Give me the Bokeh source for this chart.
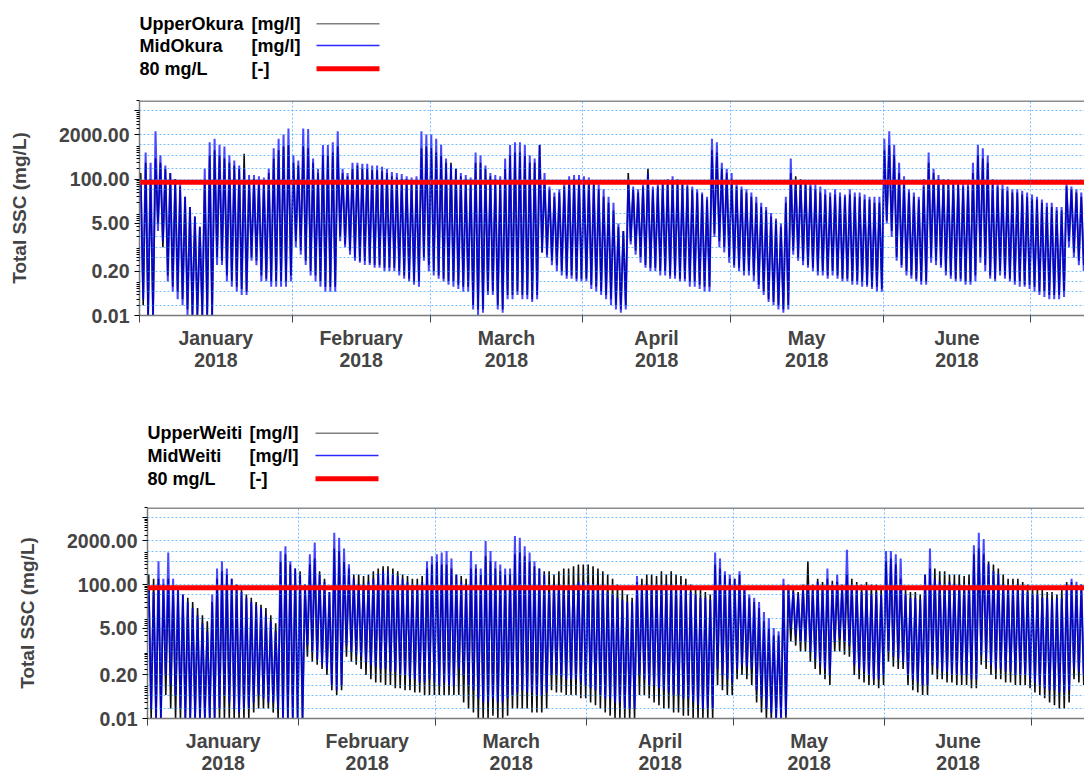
import numpy as np
import pandas as pd
from bokeh.plotting import figure
from bokeh.models import Range1d, FixedTicker, PrintfTickFormatter, Span
from bokeh.core.properties import value
from bokeh.embed import file_html
from bokeh.resources import INLINE

FONT = "Liberation Sans"
START = "2018-01-01"
N_DAYS_SHOWN = 191.9
Y_MIN, Y_MAX = 0.01, 20000

# ---------------- tick labels / positions ----------------
month_names = ["January", "February", "March", "April", "May", "June"]
month_label_dates = ["2018-01-16 12:00", "2018-02-15 00:00", "2018-03-16 12:00",
                     "2018-04-16 00:00", "2018-05-16 12:00", "2018-06-16 00:00"]
month_starts = ["2018-01-01", "2018-02-01", "2018-03-01", "2018-04-01",
                "2018-05-01", "2018-06-01", "2018-07-01"]
y_label_ticks = [0.01, 0.2, 5, 100, 2000, 10000]
y_grid_values = [0.02, 0.05, 0.1, 0.2, 0.5, 1, 2, 5, 10, 50, 100, 200, 500, 1000, 2000, 10000]
threshold = 80  # mg/L

# ---------------- legend texts ----------------
top_names = ["UpperOkura", "MidOkura", "80 mg/L"]
bot_names = ["UpperWeiti", "MidWeiti", "80 mg/L"]
units = ["[mg/l]", "[mg/l]", "[-]"]
legend_colors = ["#7f7f7f", "#2a2aff", "#ff0000"]
legend_widths = [1.5, 1.5, 5]

# ---------------- data: daily tidal maxima / minima (mg/L), day 0 = 1 Jan 2018 ----------------
upper_okura_hi = [
    150, 300, 100, 400, 300, 200, 150, 100, 60, 30,
    15, 8, 4, 100, 500, 700, 500, 400, 300, 250,
    200, 550, 100, 100, 90, 90, 150, 400, 700, 900,
    1000, 300, 250, 900, 800, 300, 150, 500, 500, 600,
    900, 150, 120, 200, 250, 200, 200, 180, 180, 170,
    150, 120, 110, 100, 100, 90, 100, 800, 900, 800,
    600, 500, 300, 300, 200, 120, 100, 90, 300, 300,
    200, 120, 100, 100, 200, 500, 600, 600, 500, 300,
    300, 1000, 100, 50, 30, 40, 60, 100, 100, 100,
    100, 80, 70, 50, 30, 20, 12, 4, 3, 150,
    50, 40, 60, 200, 50, 60, 70, 80, 100, 80,
    70, 60, 50, 40, 35, 25, 700, 600, 200, 150,
    100, 60, 50, 40, 30, 20, 15, 12, 8, 6,
    4, 20, 150, 120, 100, 70, 60, 50, 40, 35,
    30, 35, 30, 30, 35, 30, 30, 25, 25, 20,
    20, 700, 1000, 500, 150, 70, 40, 30, 25, 60,
    300, 150, 100, 80, 70, 70, 70, 60, 60, 150,
    500, 400, 300, 70, 60, 50, 45, 40, 40, 35,
    30, 25, 25, 20, 15, 15, 12, 12, 60, 50,
    40, 30]
upper_okura_lo = [
    0.02, 0.01, 0.01, 5, 1, 0.15, 0.07, 0.05, 0.03, 0.015,
    0.01, 0.01, 0.01, 0.01, 0.01, 0.5, 0.4, 0.15, 0.1, 0.07,
    0.06, 0.05, 0.5, 0.4, 0.15, 0.12, 0.1, 0.1, 0.1, 0.1,
    0.15, 1.5, 0.8, 0.4, 0.2, 0.15, 0.1, 0.07, 0.07, 0.07,
    2, 1.2, 0.8, 0.5, 0.4, 0.4, 0.35, 0.3, 0.3, 0.25,
    0.25, 0.25, 0.2, 0.15, 0.12, 0.1, 0.1, 0.5, 0.3, 0.2,
    0.15, 0.12, 0.1, 0.1, 0.08, 0.07, 0.07, 0.02, 0.015, 0.015,
    0.05, 0.05, 0.02, 0.015, 0.04, 0.04, 0.05, 0.04, 0.04, 0.03,
    0.04, 0.7, 0.6, 0.4, 0.3, 0.2, 0.15, 0.15, 0.12, 0.12,
    0.12, 0.08, 0.07, 0.05, 0.04, 0.03, 0.02, 0.015, 0.02, 1.5,
    0.8, 0.5, 0.3, 0.25, 0.25, 0.2, 0.2, 0.15, 0.15, 0.12,
    0.12, 0.1, 0.1, 0.08, 0.07, 0.07, 2.5, 1.5, 1, 0.5,
    0.3, 0.25, 0.2, 0.2, 0.15, 0.08, 0.05, 0.03, 0.025, 0.02,
    0.015, 0.02, 0.8, 0.5, 0.4, 0.3, 0.25, 0.2, 0.2, 0.15,
    0.2, 0.15, 0.12, 0.12, 0.1, 0.1, 0.1, 0.08, 0.07, 0.07,
    0.06, 6, 3, 0.5, 0.3, 0.2, 0.15, 0.12, 0.1, 0.1,
    0.5, 0.4, 0.3, 0.2, 0.15, 0.12, 0.12, 0.1, 0.1, 0.15,
    0.5, 0.3, 0.15, 0.12, 0.2, 0.15, 0.12, 0.1, 0.1, 0.08,
    0.08, 0.07, 0.05, 0.05, 0.04, 0.04, 0.04, 0.05, 1.5, 0.7,
    0.4, 0.3]
mid_okura_hi = [
    80, 600, 300, 2500, 500, 250, 150, 100, 70, 30,
    15, 8, 4, 200, 1200, 1500, 1000, 900, 500, 350,
    250, 200, 130, 130, 120, 110, 200, 800, 1500, 2000,
    3000, 500, 350, 3000, 2900, 400, 200, 1000, 1000, 1200,
    2500, 200, 150, 300, 300, 280, 280, 250, 250, 230,
    200, 160, 150, 140, 120, 110, 120, 2500, 2000, 2000,
    1500, 1000, 400, 250, 200, 150, 130, 110, 600, 500,
    250, 150, 130, 120, 400, 1000, 1200, 1200, 1000, 500,
    400, 1000, 150, 60, 40, 50, 80, 120, 130, 130,
    120, 110, 90, 70, 50, 30, 20, 5, 3, 100,
    60, 50, 70, 150, 60, 70, 80, 100, 120, 100,
    80, 70, 60, 50, 40, 30, 1500, 1200, 300, 200,
    150, 80, 60, 50, 40, 30, 20, 15, 10, 7,
    5, 30, 400, 80, 90, 90, 80, 70, 60, 50,
    40, 50, 40, 35, 50, 40, 40, 35, 30, 30,
    30, 1500, 2500, 1000, 300, 120, 50, 40, 30, 100,
    600, 200, 130, 100, 100, 90, 90, 80, 80, 300,
    1000, 800, 500, 100, 80, 70, 60, 50, 50, 45,
    40, 35, 30, 25, 20, 20, 15, 15, 80, 60,
    50, 40]
mid_okura_lo = [
    0.03, 0.01, 0.01, 3, 1.5, 0.1, 0.05, 0.03, 0.02, 0.01,
    0.01, 0.01, 0.01, 0.01, 0.01, 0.3, 0.3, 0.1, 0.07, 0.05,
    0.04, 0.04, 0.4, 0.3, 0.1, 0.1, 0.07, 0.07, 0.07, 0.07,
    0.1, 1, 0.6, 0.3, 0.15, 0.1, 0.07, 0.05, 0.05, 0.05,
    1.5, 1, 0.6, 0.4, 0.35, 0.3, 0.3, 0.25, 0.25, 0.2,
    0.2, 0.2, 0.15, 0.12, 0.1, 0.08, 0.07, 0.4, 0.2, 0.15,
    0.12, 0.1, 0.08, 0.07, 0.06, 0.05, 0.05, 0.015, 0.01, 0.012,
    0.04, 0.04, 0.015, 0.012, 0.03, 0.03, 0.04, 0.03, 0.03, 0.025,
    0.03, 0.7, 0.5, 0.3, 0.2, 0.15, 0.12, 0.12, 0.1, 0.1,
    0.1, 0.06, 0.05, 0.04, 0.03, 0.02, 0.015, 0.012, 0.015, 1.2,
    0.6, 0.35, 0.25, 0.2, 0.2, 0.15, 0.15, 0.12, 0.12, 0.1,
    0.1, 0.07, 0.07, 0.06, 0.05, 0.05, 2, 1, 0.7, 0.35,
    0.25, 0.2, 0.15, 0.15, 0.1, 0.06, 0.04, 0.025, 0.02, 0.015,
    0.012, 0.015, 0.6, 0.4, 0.3, 0.25, 0.2, 0.15, 0.15, 0.12,
    0.15, 0.12, 0.1, 0.1, 0.08, 0.08, 0.07, 0.07, 0.06, 0.05,
    0.05, 5, 2, 0.4, 0.25, 0.15, 0.12, 0.1, 0.08, 0.08,
    0.35, 0.3, 0.25, 0.15, 0.12, 0.1, 0.1, 0.08, 0.08, 0.1,
    0.35, 0.2, 0.12, 0.1, 0.15, 0.12, 0.1, 0.08, 0.07, 0.07,
    0.06, 0.05, 0.04, 0.035, 0.03, 0.03, 0.03, 0.035, 1, 0.5,
    0.3, 0.2]
upper_weiti_hi = [
    200, 150, 150, 100, 150, 80, 70, 50, 40, 30,
    20, 12, 8, 30, 150, 250, 200, 150, 100, 70,
    50, 40, 30, 25, 20, 12, 7, 500, 800, 400,
    300, 250, 100, 400, 600, 250, 150, 60, 1200, 1000,
    500, 300, 200, 200, 180, 200, 250, 300, 350, 350,
    300, 250, 200, 180, 150, 150, 180, 300, 400, 500,
    400, 400, 300, 200, 180, 150, 300, 300, 200, 700,
    500, 300, 250, 200, 200, 800, 900, 700, 500, 350,
    300, 250, 250, 200, 250, 300, 300, 350, 400, 400,
    400, 350, 300, 250, 200, 150, 100, 70, 50, 40,
    120, 150, 200, 200, 180, 250, 200, 250, 200, 180,
    150, 100, 80, 70, 60, 50, 400, 300, 200, 150,
    150, 200, 80, 40, 30, 20, 8, 5, 3, 3,
    100, 80, 80, 60, 100, 500, 100, 150, 120, 150,
    130, 120, 100, 200, 150, 120, 100, 120, 100, 100,
    80, 500, 600, 400, 150, 70, 60, 60, 50, 200,
    300, 300, 250, 250, 200, 200, 200, 180, 200, 800,
    1200, 800, 500, 400, 300, 200, 150, 150, 150, 120,
    100, 90, 80, 70, 60, 60, 50, 70, 120, 120,
    100, 100]
upper_weiti_lo = [
    0.01, 0.01, 0.01, 0.05, 0.02, 0.01, 0.01, 0.01, 0.01, 0.01,
    0.01, 0.01, 0.01, 0.01, 0.01, 0.01, 0.01, 0.01, 0.01, 0.01,
    0.01, 0.015, 0.02, 0.02, 0.02, 0.015, 0.01, 0.01, 0.01, 0.01,
    0.01, 0.01, 0.7, 0.5, 0.4, 0.3, 0.2, 0.07, 0.05, 0.07,
    0.7, 0.5, 0.4, 0.3, 0.2, 0.15, 0.12, 0.12, 0.1, 0.1,
    0.08, 0.08, 0.07, 0.07, 0.06, 0.06, 0.05, 0.05, 0.05, 0.05,
    0.05, 0.05, 0.05, 0.05, 0.03, 0.02, 0.015, 0.01, 0.01, 0.01,
    0.012, 0.01, 0.01, 0.012, 0.02, 0.02, 0.02, 0.02, 0.015, 0.015,
    0.015, 0.02, 0.07, 0.06, 0.06, 0.05, 0.05, 0.05, 0.04, 0.04,
    0.03, 0.025, 0.02, 0.015, 0.012, 0.01, 0.01, 0.01, 0.01, 0.01,
    0.05, 0.05, 0.04, 0.03, 0.025, 0.02, 0.02, 0.015, 0.015, 0.012,
    0.012, 0.01, 0.01, 0.01, 0.01, 0.01, 0.1, 0.07, 0.05, 0.05,
    0.15, 0.2, 0.15, 0.1, 0.03, 0.015, 0.01, 0.01, 0.01, 0.01,
    0.01, 2, 1.5, 1, 1, 0.5, 0.3, 0.2, 0.15, 0.1,
    1, 1, 0.8, 0.7, 0.2, 0.15, 0.12, 0.1, 0.1, 0.08,
    0.1, 0.5, 0.35, 0.3, 0.3, 0.1, 0.07, 0.06, 0.05, 0.05,
    0.2, 0.15, 0.15, 0.12, 0.12, 0.1, 0.1, 0.1, 0.08, 0.08,
    0.4, 0.3, 0.2, 0.15, 0.15, 0.12, 0.12, 0.1, 0.1, 0.1,
    0.08, 0.06, 0.05, 0.04, 0.03, 0.025, 0.02, 0.02, 0.03, 0.15,
    0.12, 0.1]
mid_weiti_hi = [
    70, 60, 500, 150, 900, 150, 80, 50, 30, 20,
    12, 7, 4, 50, 300, 500, 300, 150, 100, 60,
    40, 30, 25, 20, 12, 8, 4, 1000, 1400, 500,
    300, 200, 100, 800, 1800, 200, 120, 60, 3500, 2500,
    1200, 400, 150, 100, 100, 120, 150, 200, 250, 250,
    200, 180, 150, 120, 100, 100, 120, 500, 700, 800,
    900, 1000, 600, 200, 120, 100, 1000, 400, 300, 2000,
    1000, 500, 400, 300, 300, 2800, 2500, 1400, 900, 500,
    300, 200, 60, 100, 80, 70, 80, 100, 120, 120,
    110, 100, 90, 80, 60, 50, 40, 35, 30, 30,
    180, 90, 100, 90, 100, 90, 100, 90, 100, 80,
    80, 60, 50, 40, 40, 35, 900, 600, 250, 200,
    150, 250, 90, 50, 40, 30, 15, 10, 5, 4,
    150, 100, 60, 50, 70, 100, 80, 120, 90, 300,
    100, 200, 80, 1100, 100, 80, 60, 70, 50, 60,
    50, 1000, 1000, 800, 600, 50, 40, 40, 35, 200,
    1200, 150, 120, 100, 120, 100, 100, 90, 100, 1500,
    3500, 2300, 400, 250, 200, 100, 80, 70, 80, 70,
    60, 50, 50, 40, 40, 35, 40, 40, 100, 150,
    120, 100]
mid_weiti_lo = [
    0.02, 0.01, 0.01, 0.2, 0.1, 0.05, 0.02, 0.01, 0.01, 0.01,
    0.01, 0.01, 0.01, 0.01, 0.02, 0.05, 0.03, 0.02, 0.015, 0.02,
    0.02, 0.03, 0.05, 0.04, 0.03, 0.03, 0.02, 0.01, 0.01, 0.01,
    0.01, 0.01, 1.5, 1, 0.6, 0.4, 0.3, 0.1, 0.07, 0.1,
    1.5, 1, 0.8, 0.7, 0.5, 0.4, 0.35, 0.3, 0.3, 0.25,
    0.25, 0.2, 0.2, 0.15, 0.15, 0.12, 0.12, 0.15, 0.12, 0.1,
    0.12, 0.1, 0.1, 0.3, 0.2, 0.1, 0.07, 0.04, 0.03, 0.03,
    0.04, 0.03, 0.03, 0.04, 0.05, 0.06, 0.07, 0.06, 0.06, 0.05,
    0.05, 0.06, 0.2, 0.2, 0.18, 0.15, 0.15, 0.15, 0.12, 0.1,
    0.08, 0.07, 0.05, 0.04, 0.04, 0.03, 0.03, 0.02, 0.02, 0.02,
    0.2, 0.15, 0.1, 0.1, 0.08, 0.07, 0.06, 0.05, 0.05, 0.04,
    0.04, 0.03, 0.025, 0.02, 0.02, 0.02, 0.3, 0.2, 0.15, 0.12,
    0.3, 0.4, 0.35, 0.3, 0.07, 0.04, 0.02, 0.015, 0.01, 0.01,
    0.012, 5, 3, 2, 2, 1, 0.6, 0.4, 0.3, 0.2,
    2, 2.5, 2, 1.5, 0.4, 0.3, 0.25, 0.2, 0.15, 0.15,
    0.2, 1, 0.7, 0.6, 0.5, 0.2, 0.15, 0.12, 0.1, 0.1,
    0.4, 0.3, 0.25, 0.25, 0.2, 0.2, 0.2, 0.2, 0.15, 0.15,
    0.8, 0.6, 0.4, 0.3, 0.3, 0.25, 0.25, 0.2, 0.2, 0.2,
    0.15, 0.12, 0.1, 0.08, 0.07, 0.07, 0.06, 0.06, 0.07, 0.3,
    0.25, 0.2]


def ms(s):
    return int(pd.Timestamp(s).value // 10**6)


def tidal_series(hi, lo, phase):
    """Interleave the read daily maxima/minima into one time series."""
    n = len(hi)
    t = np.empty(2 * n)
    v = np.empty(2 * n)
    d = np.arange(n)
    t[0::2] = d + phase
    t[1::2] = d + phase + 0.5
    v[0::2] = hi
    v[1::2] = lo
    x = np.datetime64(START) + (t * 86400000).astype("int64").astype("timedelta64[ms]")
    return x, v


label_ms = [ms(s) for s in month_label_dates]
start_ms = [ms(s) for s in month_starts]
x0 = pd.Timestamp(START)
x1 = x0 + pd.Timedelta(days=N_DAYS_SHOWN)
y_minor = [k * 10.0 ** e for e in range(-2, 5) for k in range(2, 10)]
W = 1084


def make_panel(hiA, loA, hiB, loB, border_left, height, top, bottom):
    p = figure(width=W, height=height, x_axis_type="datetime", y_axis_type="log",
               x_range=Range1d(x0, x1), y_range=Range1d(Y_MIN, Y_MAX),
               toolbar_location=None, output_backend="svg",
               min_border_left=border_left, min_border_right=0,
               min_border_top=top, min_border_bottom=bottom)
    p.outline_line_color = None

    xa, va = tidal_series(hiA, loA, 0.25)
    xb, vb = tidal_series(hiB, loB, 0.25)
    p.line(xa, va, line_color="black", line_width=1.6, line_alpha=0.95)
    p.line(xb, vb, line_color="#0000ff", line_width=2.0, line_alpha=0.72)
    p.line([x0, x1], [threshold, threshold], line_color="#ff0000", line_width=5)
    p.add_layout(Span(location=Y_MAX, dimension="width", line_color="#8c8c8c", line_width=3))

    ya = p.yaxis[0]
    ya.ticker = FixedTicker(ticks=y_label_ticks, minor_ticks=y_minor)
    ya.formatter = PrintfTickFormatter(format="%.2f")
    ya.major_label_overrides = {10000: ""}
    ya.axis_label = "Total SSC (mg/L)"
    ya.axis_label_text_font = FONT
    ya.axis_label_text_font_style = "bold"
    ya.axis_label_text_font_size = "19px"
    ya.axis_label_standoff = 26
    ya.major_label_text_font = FONT
    ya.major_label_text_font_style = "bold"
    ya.major_label_text_font_size = "19.5px"
    ya.major_label_standoff = 5
    ya.major_tick_out = 5
    ya.major_tick_in = 0
    ya.minor_tick_out = 3
    ya.minor_tick_in = 0
    ya.axis_line_color = "#7a7a7a"
    ya.axis_line_width = 1.5

    xa_ = p.xaxis[0]
    xa_.ticker = FixedTicker(ticks=label_ms, minor_ticks=start_ms)
    xa_.major_label_overrides = {k: f"{m}\n2018" for k, m in zip(label_ms, month_names)}
    xa_.major_label_text_font = FONT
    xa_.major_label_text_font_style = "bold"
    xa_.major_label_text_font_size = "19.5px"
    xa_.major_label_text_line_height = 1.0
    xa_.major_label_standoff = 4
    xa_.major_tick_line_color = None
    xa_.major_tick_out = 0
    xa_.major_tick_in = 0
    xa_.minor_tick_out = 7
    xa_.minor_tick_in = 0
    xa_.minor_tick_line_color = "#444444"
    xa_.axis_line_color = "#7a7a7a"
    xa_.axis_line_width = 1.5

    p.ygrid.ticker = FixedTicker(ticks=y_grid_values)
    p.xgrid.ticker = FixedTicker(ticks=start_ms[1:])
    for g in (p.xgrid, p.ygrid):
        g.grid_line_color = "#1e90ff"
        g.grid_line_dash = "2 2"
        g.grid_line_alpha = 0.6
        g.grid_line_width = 1
        g.level = "overlay"
    return p


def make_legend(names, height, rows_y, x_name, x_unit, xl0, xl1):
    f = figure(width=W, height=height, x_range=Range1d(0, W), y_range=Range1d(height, 0),
               toolbar_location=None, output_backend="svg", min_border=0,
               x_axis_location=None, y_axis_location=None)
    f.grid.visible = False
    f.outline_line_color = None
    f.text(x=[x_name] * 3, y=rows_y, text=names, text_font=value(FONT), text_font_style="bold",
           text_font_size="18px", text_baseline="middle", text_color="black")
    f.text(x=[x_unit] * 3, y=rows_y, text=units, text_font=value(FONT), text_font_style="bold",
           text_font_size="18px", text_baseline="middle", text_color="black")
    for yy, c, w in zip(rows_y, legend_colors, legend_widths):
        f.segment(x0=[xl0], y0=[yy], x1=[xl1], y1=[yy], line_color=c, line_width=w)
    return f


leg1 = make_legend(top_names, 90, [23.3, 45, 68.3], 139, 251, 316, 379)
p1 = make_panel(upper_okura_hi, upper_okura_lo, mid_okura_hi, mid_okura_lo, 139, 308, 10, 83)
leg2 = make_legend(bot_names, 99, [34.7, 57, 80.3], 147, 249, 315, 378)
p2 = make_panel(upper_weiti_hi, upper_weiti_lo, mid_weiti_hi, mid_weiti_lo, 147, 279, 10, 56)

open("out.html", "w").write(file_html([leg1, p1, leg2, p2], INLINE))
